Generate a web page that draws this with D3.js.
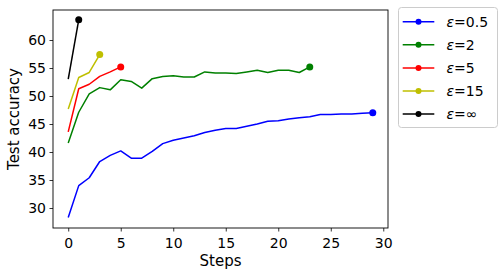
<!DOCTYPE html>
<html><head><meta charset="utf-8">
<script src="https://cdn.jsdelivr.net/npm/d3@7"></script>
<style>body{margin:0;background:#fff}svg{display:block}text{font-family:"DejaVu Sans",sans-serif}</style>
</head><body><svg id="c" width="503" height="276"></svg>
<script>
const seriesNames = ["0.5","2","5","15","∞"];
const seriesColors = ["#0000ff","#008000","#ff0000","#bfbf00","#000000"];
const eps05 = [28.3,34.0,35.4,38.3,39.4,40.2,38.9,38.9,40.1,41.5,42.1,42.5,42.9,43.5,43.9,44.2,44.2,44.6,45.0,45.5,45.6,45.9,46.1,46.3,46.7,46.7,46.8,46.8,46.9,47.0];
const eps2 = [41.6,47.1,50.4,51.5,51.1,52.9,52.6,51.4,53.1,53.5,53.6,53.4,53.4,54.3,54.1,54.1,54.0,54.3,54.6,54.2,54.6,54.6,54.2,55.2];
const eps5 = [43.6,51.3,52.1,53.5,54.3,55.2];
const eps15 = [47.7,53.3,54.2,57.4];
const epsInf = [53.0,63.6];
const xTicks = [0,5,10,15,20,25,30];
const yTicks = [30,35,40,45,50,55,60];
const allSeries = [eps05,eps2,eps5,eps15,epsInf];

const svg = d3.select("#c");
const L=53,R=388,T=10,B=228;
const x = d3.scaleLinear().domain([-1.45,30.45]).range([L,R]);
const y = d3.scaleLinear().domain([26.43,65.36]).range([B,T]);

const g = svg.append("g");
const xa = svg.append("g").attr("transform",`translate(0,${B})`)
  .call(d3.axisBottom(x).tickValues(xTicks).tickSize(3.5).tickPadding(3.5).tickFormat(d3.format("d")));
const ya = svg.append("g").attr("transform",`translate(${L},0)`)
  .call(d3.axisLeft(y).tickValues(yTicks).tickSize(3.5).tickPadding(3.5).tickFormat(d3.format("d")));
[xa,ya].forEach(a=>{a.select(".domain").remove();a.selectAll("line").attr("stroke","#000").attr("stroke-width",0.8);
  a.selectAll("text").attr("font-size",14).attr("fill","#000").attr("font-family","DejaVu Sans");});
xa.selectAll("text").attr("dy","0.95em");

const line = d3.line().x((d,i)=>x(i)).y(d=>y(d));
allSeries.forEach((s,k)=>{
  g.append("path").datum(s).attr("d",line).attr("fill","none").attr("stroke",seriesColors[k]).attr("stroke-width",1.5).attr("stroke-linejoin","round");
  g.append("circle").attr("cx",x(s.length-1)).attr("cy",y(s[s.length-1])).attr("r",3.5).attr("fill",seriesColors[k]);
});

svg.append("rect").attr("x",L).attr("y",T).attr("width",R-L).attr("height",B-T).attr("fill","none").attr("stroke","#000").attr("stroke-width",0.9);

svg.append("text").attr("x",(L+R)/2).attr("y",266).attr("text-anchor","middle").attr("font-size",15).text("Steps");
svg.append("text").attr("transform",`translate(19,${(T+B)/2}) rotate(-90)`).attr("text-anchor","middle").attr("font-size",15).text("Test accuracy");

const lg = svg.append("g");
lg.append("rect").attr("x",398.5).attr("y",7.5).attr("width",99).attr("height",120).attr("rx",3).attr("fill","#fff").attr("fill-opacity",0.8).attr("stroke","#cccccc").attr("stroke-width",1);
seriesNames.forEach((n,k)=>{
  const yy = 21.7 + k*23.1;
  lg.append("line").attr("x1",402.7).attr("x2",434.3).attr("y1",yy).attr("y2",yy).attr("stroke",seriesColors[k]).attr("stroke-width",1.5);
  lg.append("circle").attr("cx",418.5).attr("cy",yy).attr("r",3).attr("fill",seriesColors[k]);
  const t = lg.append("text").attr("x",446.5).attr("y",yy+5).attr("font-size",14);
  t.append("tspan").attr("font-style","italic").text("ε");
  t.append("tspan").text("=" + n);
});
</script></body></html>
